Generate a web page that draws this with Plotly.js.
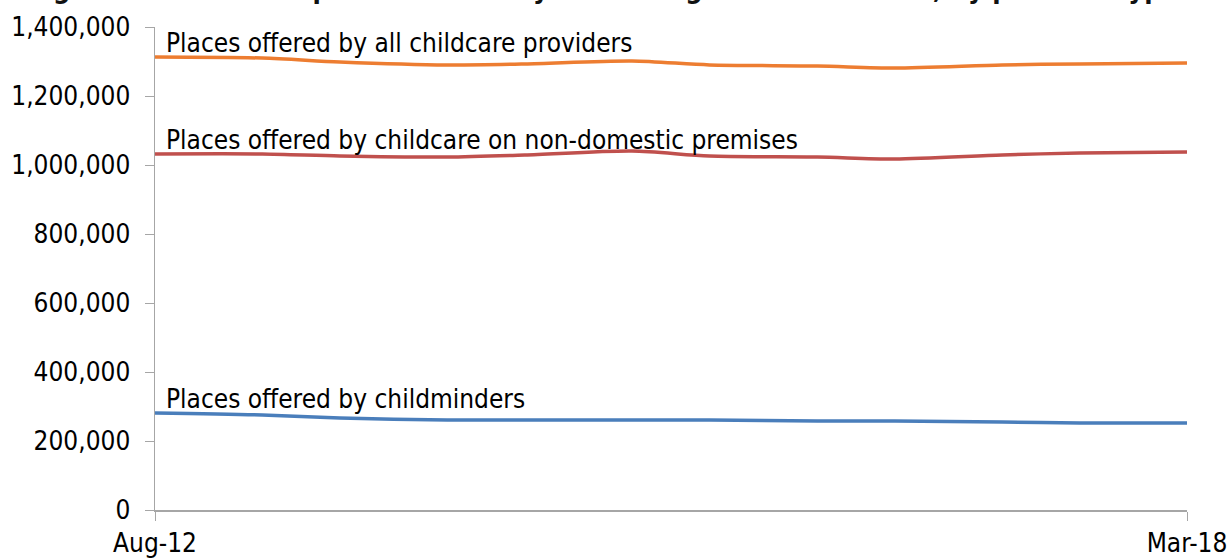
<!DOCTYPE html>
<html>
<head>
<meta charset="utf-8">
<script src="https://cdn.plot.ly/plotly-3.0.1.min.js"></script>
<style>html,body{margin:0;padding:0;background:#fff;}#chart{width:1229px;height:559px;}</style>
</head>
<body>
<div id="chart"></div>
<script>
const dates = ["2012-08-31","2013-03-31","2013-08-31","2014-03-31","2014-08-31","2015-03-31","2015-08-31","2016-03-31","2016-08-31","2017-03-31","2017-08-31","2018-03-31"];
const tickLabels = ["Aug-12","Mar-18"];
const allProviders = [1313000,1310000,1298600,1289900,1292800,1301500,1290000,1287000,1281000,1290000,1293000,1296000];
const nonDomestic = [1031900,1031900,1026100,1023200,1029000,1040600,1026100,1023200,1017400,1029000,1034800,1037600];
const childminders = [281200,275400,266700,260900,260900,260900,260900,258000,258000,255100,252200,252200];
const seriesNames = ["Places offered by all childcare providers","Places offered by childcare on non-domestic premises","Places offered by childminders"];
const titleText = "Figure 3: Number of places offered by Ofsted registered childcare, by provider type";

const FONT = "DejaVu Sans Condensed, DejaVu Sans, sans-serif";
const mk = (y, name, color) => ({x: dates, y: y, name: name, type: "scatter", mode: "lines",
  line: {color: color, width: 3.5, shape: "spline", smoothing: 0.8}, hoverinfo: "x+y"});

const data = [
  mk(allProviders, seriesNames[0], "#ED7D31"),
  mk(nonDomestic, seriesNames[1], "#C0504D"),
  mk(childminders, seriesNames[2], "#4A7EBB")
];

const labelY = [1353000, 1072000, 321000];
const annotations = seriesNames.map((n, i) => ({
  text: n, xref: "x", yref: "y", x: dates[0], y: labelY[i], xanchor: "left", yanchor: "middle",
  xshift: 9, showarrow: false, font: {family: FONT, size: 26, color: "#000"}
}));
annotations.push({text: "<b>" + titleText + "</b>", xref: "paper", yref: "paper", x: -0.125, y: 1.044,
  xanchor: "left", yanchor: "bottom", showarrow: false, font: {family: FONT, size: 27, color: "#111"}});

const layout = {
  width: 1229, height: 559,
  margin: {l: 155, r: 42, t: 27, b: 49},
  paper_bgcolor: "#fff", plot_bgcolor: "#fff",
  showlegend: false,
  xaxis: {type: "date", range: [dates[0], dates[dates.length-1]], tickvals: [dates[0], dates[dates.length-1]],
    ticktext: tickLabels, showgrid: false, zeroline: false, showline: true, linecolor: "#A6A6A6", linewidth: 1.5,
    ticks: "outside", ticklen: 9, tickcolor: "#A6A6A6", tickfont: {family: FONT, size: 26, color: "#000"}},
  yaxis: {range: [0, 1400000], dtick: 200000, tickformat: ",d", showgrid: false, zeroline: false,
    showline: true, linecolor: "#A6A6A6", linewidth: 1.5, ticks: "outside", ticklen: 9, tickcolor: "#A6A6A6",
    ticklabelstandoff: 9, tickfont: {family: FONT, size: 26, color: "#000"}},
  annotations: annotations
};
Plotly.newPlot("chart", data, layout, {displayModeBar: false, staticPlot: true});
</script>
</body>
</html>
